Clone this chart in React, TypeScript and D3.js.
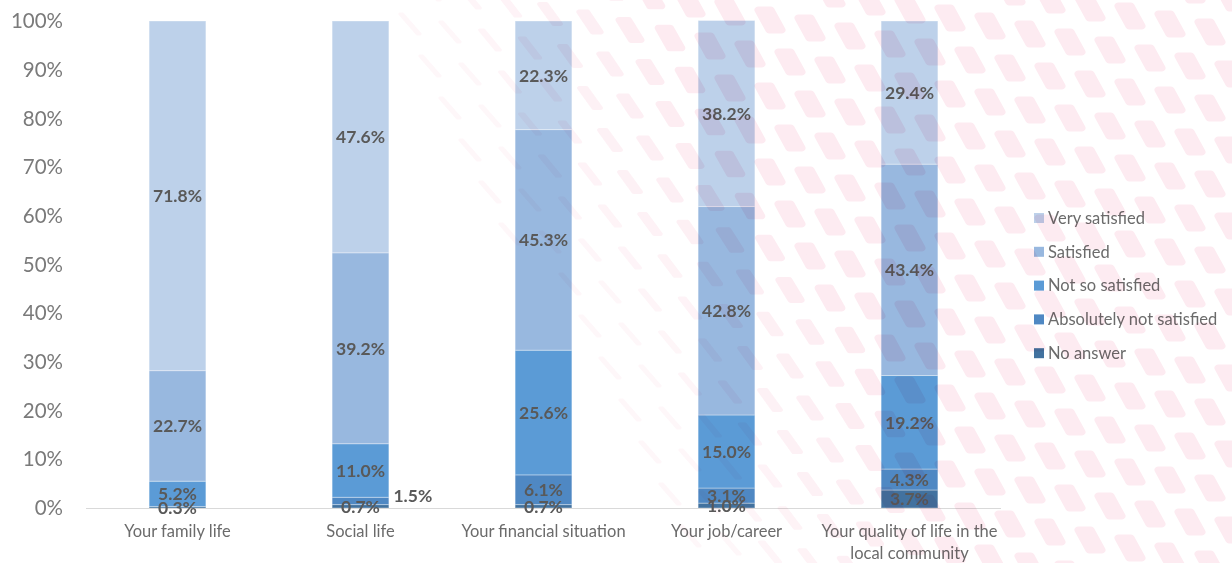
import React from "react";
import * as d3 from "d3";

const categories = [
  "Your family life",
  "Social life",
  "Your financial situation",
  "Your job/career",
  "Your quality of life in the local community",
];
const seriesNames = ["No answer", "Absolutely not satisfied", "Not so satisfied", "Satisfied", "Very satisfied"];
const noAnswer = [0.3, 0.7, 0.7, 1.0, 3.7];
const absolutelyNot = [0, 1.5, 6.1, 3.1, 4.3];
const notSo = [5.2, 11.0, 25.6, 15.0, 19.2];
const satisfied = [22.7, 39.2, 45.3, 42.8, 43.4];
const verySatisfied = [71.8, 47.6, 22.3, 38.2, 29.4];
const yTicks = [0, 10, 20, 30, 40, 50, 60, 70, 80, 90, 100];
const categoryLines = [["Your family life"], ["Social life"], ["Your financial situation"], ["Your job/career"], ["Your quality of life in the", "local community"]];

const colors: Record<string, string> = {
  "No answer": "#42729f",
  "Absolutely not satisfied": "#4f88c3",
  "Not so satisfied": "#5b9bd6",
  "Satisfied": "#98b8df",
  "Very satisfied": "#bdd1ea",
};

const W = 1232, H = 563;
const FONT = "Lato, 'Open Sans', sans-serif";

function Pattern() {
  const bx = d3.scaleLinear().domain([0, 200, 330, 500, 600]).range([385, 480, 585, 650, 690]).clamp(true);
  const shapes: JSX.Element[] = [];
  let key = 0;
  for (let r = -4; r < 22; r++) {
    for (let c = 0; c < 30; c++) {
      const cx = 1250 - c * 40 - (((r % 2) + 2) % 2) * 20;
      const cy = r * 38 + 0.2 * cx - 210;
      if (cy < -20 || cy > H + 20) continue;
      const b = bx(cy);
      if (cx < b) continue;
      const s = Math.max(0.2, Math.min(1, (cx - b) / 280));
      const w = 13 * s;
      const h = 20;
      const k = 5.5 + (1 - s) * 4;
      const d = `M${cx - w / 2 - k},${cy - h / 2} L${cx + w / 2 - k},${cy - h / 2} L${cx + w / 2 + k},${cy + h / 2} L${cx - w / 2 + k},${cy + h / 2} Z`;
      shapes.push(<path key={key++} d={d} fill="#fdebf1" stroke="#fdebf1" strokeWidth={7 * Math.max(0.45, s)} strokeLinejoin="round" opacity={0.25 + 0.75 * s} />);
    }
  }
  return <g style={{ mixBlendMode: "multiply" }}>{shapes}</g>;
}

export default function App() {
  const x = d3.scaleBand<string>().domain(categories).range([86, 1001]).paddingInner(0.69).paddingOuter(0.345);
  const y = d3.scaleLinear().domain([0, 100]).range([508, 21]);

  const rows = categories.map((c, i) => ({
    cat: c,
    "No answer": noAnswer[i],
    "Absolutely not satisfied": absolutelyNot[i],
    "Not so satisfied": notSo[i],
    "Satisfied": satisfied[i],
    "Very satisfied": verySatisfied[i],
  }));
  const stack = d3.stack<any>().keys(seriesNames)(rows);
  const legendOrder = [...seriesNames].reverse();

  return (
    <svg width={W} height={H} style={{ position: "absolute", left: 0, top: 0, background: "#fff" }}>
      <g>
        {stack.map((layer) =>
          layer.map((seg, i) => {
            const cat = categories[i];
            const x0 = x(cat)!;
            const h = y(seg[0]) - y(seg[1]);
            if (h <= 0) return null;
            return (
              <rect key={layer.key + i} x={x0} y={y(seg[1])} width={x.bandwidth()} height={h}
                fill={colors[layer.key]} stroke="#ffffff" strokeOpacity={0.35} strokeWidth={1} />
            );
          })
        )}
      </g>
      <line x1={86} x2={1001} y1={y(0) + 0.5} y2={y(0) + 0.5} stroke="#d9d9d9" strokeWidth={1} />
      <g fontFamily={FONT} fontSize={20.5} fill="#7a7a7a" textAnchor="end">
        {yTicks.map((t) => (
          <text key={t} x={63} y={y(t)} dy="0.35em">{t}%</text>
        ))}
      </g>
      <g fontFamily={FONT} fontSize={16.5} fill="#6b6b6b" textAnchor="middle">
        {categories.map((c, i) => (
          <text key={c} x={x(c)! + x.bandwidth() / 2} y={531}>
            {categoryLines[i].map((ln, j) => (
              <tspan key={j} x={x(c)! + x.bandwidth() / 2} dy={j === 0 ? "0.35em" : 22}>{ln}</tspan>
            ))}
          </text>
        ))}
      </g>
      <g fontFamily={FONT} fontSize={17.5} fontWeight={700} fill="#595959" textAnchor="middle">
        {stack.map((layer) =>
          layer.map((seg, i) => {
            const v = seg[1] - seg[0];
            if (v <= 0) return null;
            const cat = categories[i];
            const outside = layer.key === "Absolutely not satisfied" && cat === "Social life";
            const cx = outside ? x(cat)! + x.bandwidth() + 24 : x(cat)! + x.bandwidth() / 2;
            const cy = outside ? y(2.5) : y((seg[0] + seg[1]) / 2);
            return (
              <text key={layer.key + i} x={cx} y={cy} dy="0.36em">{v.toFixed(1)}%</text>
            );
          })
        )}
      </g>
      <g fontFamily={FONT} fontSize={16.5} fill="#6b6b6b">
        {legendOrder.map((s, i) => (
          <g key={s} transform={`translate(1034, ${218 + i * 33.8})`}>
            <rect x={0} y={-5} width={10} height={10} fill={colors[s]} />
            <text x={14} y={0} dy="0.35em">{s}</text>
          </g>
        ))}
      </g>
      <Pattern />
    </svg>
  );
}
